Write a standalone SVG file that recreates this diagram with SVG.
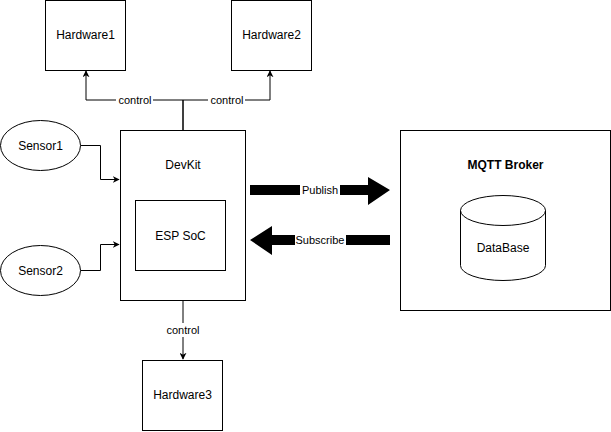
<svg xmlns="http://www.w3.org/2000/svg" width="611" height="432" viewBox="0 0 611 432">
<style>
.box{fill:#fff;stroke:#000;stroke-width:1}
.t{font-family:"Liberation Sans",Arial,sans-serif;font-size:12px;fill:#000;text-anchor:middle;dominant-baseline:central}
.lbl{font-family:"Liberation Sans",Arial,sans-serif;font-size:11px;fill:#000;text-anchor:middle;dominant-baseline:central}
.edge{fill:none;stroke:#000;stroke-width:1}
.bg{fill:#fff}
</style>
<defs>
<marker id="arr" viewBox="0 0 10 10" refX="9" refY="5" markerWidth="7" markerHeight="7" markerUnits="userSpaceOnUse" orient="auto">
<path d="M0,0 L10,5 L0,10 L3,5 Z" fill="#000"/>
</marker>
</defs>
<rect width="611" height="432" fill="#fff"/>
<g id="connectors">
<path class="edge" d="M183,130 V100 H86 V71" marker-end="url(#arr)"/>
<path class="edge" d="M183,130 V100 H270 V71" marker-end="url(#arr)"/>
<path class="edge" d="M80.5,145.5 H100.5 V179.5 H119" marker-end="url(#arr)"/>
<path class="edge" d="M80.5,270.5 H100.5 V244.5 H119" marker-end="url(#arr)"/>
<path class="edge" d="M183,300 V359" marker-end="url(#arr)"/>
<rect class="bg" x="116" y="93" width="37" height="14"/>
<text class="lbl" x="135" y="100">control</text>
<rect class="bg" x="208" y="93" width="37" height="14"/>
<text class="lbl" x="227" y="100">control</text>
<rect class="bg" x="164" y="323" width="37" height="14"/>
<text class="lbl" x="183" y="330">control</text>
<path d="M250,185 H368 V177 L390,190 L368,205 V195 H250 Z" fill="#000"/>
<rect class="bg" x="300" y="183" width="40" height="14"/>
<text class="lbl" x="320" y="190">Publish</text>
<path d="M390,235 H272 V226 L250,240 L272,255 V245 H390 Z" fill="#000"/>
<rect class="bg" x="295" y="233" width="51" height="14"/>
<text class="lbl" x="320" y="240">Subscribe</text>
</g>
<g id="hardware1"><rect class="box" x="45.5" y="0.5" width="80" height="70"/><text class="t" x="85.5" y="35">Hardware1</text></g>
<g id="hardware2"><rect class="box" x="231.5" y="0.5" width="80" height="70"/><text class="t" x="271.5" y="35">Hardware2</text></g>
<g id="sensor1"><ellipse class="box" cx="40.5" cy="145.5" rx="40" ry="25"/><text class="t" x="40.5" y="145.5">Sensor1</text></g>
<g id="sensor2"><ellipse class="box" cx="40.5" cy="270.5" rx="40" ry="25"/><text class="t" x="40.5" y="270.5">Sensor2</text></g>
<g id="devkit"><rect class="box" x="120.5" y="130.5" width="125" height="170"/><text class="t" x="183" y="165">DevKit</text></g>
<g id="espsoc"><rect class="box" x="135.5" y="200.5" width="90" height="70"/><text class="t" x="180.5" y="236">ESP SoC</text></g>
<g id="mqtt"><rect class="box" x="400.5" y="130.5" width="210" height="180"/><text class="t" x="505.5" y="165" font-weight="bold">MQTT Broker</text></g>
<g id="database">
<path class="box" d="M460.5,210.5 A42.5,15 0 0 1 545.5,210.5 V265.5 A42.5,15 0 0 1 460.5,265.5 Z"/>
<path class="edge" d="M460.5,210.5 A42.5,15 0 0 0 545.5,210.5"/>
<text class="t" x="503" y="248">DataBase</text>
</g>
<g id="hardware3"><rect class="box" x="142.5" y="360.5" width="80" height="70"/><text class="t" x="182.5" y="395">Hardware3</text></g>
</svg>
